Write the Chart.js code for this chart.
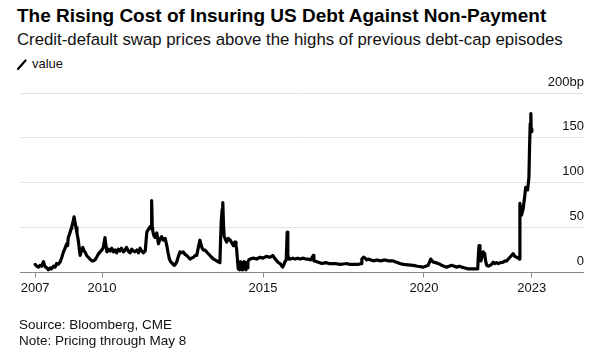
<!DOCTYPE html>
<html>
<head>
<meta charset="utf-8">
<script src="https://cdn.jsdelivr.net/npm/chart.js@4.4.1/dist/chart.umd.min.js"></script>
<style>
  html,body{margin:0;padding:0;background:#fff;}
  body{width:611px;height:355px;position:relative;overflow:hidden;font-family:"Liberation Sans",Arial,Helvetica,sans-serif;color:#000;}
  .t{position:absolute;white-space:nowrap;line-height:normal;}
  #title{left:17px;top:5px;font-size:19px;font-weight:bold;}
  #sub{left:17px;top:30px;font-size:16.8px;color:#111;}
  #leg{left:32px;top:56px;font-size:13px;color:#111;}
  #icon{position:absolute;left:16px;top:58px;}
  #src{left:19px;top:317px;font-size:13.5px;color:#111;}
  #note{left:19px;top:333px;font-size:13.5px;color:#111;}
  #wrap{position:absolute;left:0;top:0;width:611px;height:355px;}
</style>
</head>
<body>
<div class="t" id="title">The Rising Cost of Insuring US Debt Against Non-Payment</div>
<div class="t" id="sub">Credit-default swap prices above the highs of previous debt-cap episodes</div>
<svg id="icon" width="12" height="13"><line x1="2" y1="11" x2="9.5" y2="2.5" stroke="#000" stroke-width="2.2" stroke-linecap="round"/></svg>
<div class="t" id="leg">value</div>
<div id="wrap"><canvas id="c" width="611" height="355"></canvas></div>
<div class="t" id="src">Source: Bloomberg, CME</div>
<div class="t" id="note">Note: Pricing through May 8</div>
<script>
// Dates as decimal years, values in basis points
const dates = [
 2007.92,2007.97,2008.02,2008.07,2008.12,2008.18,2008.21,2008.24,2008.29,2008.33,2008.38,2008.43,2008.49,2008.54,2008.59,2008.64,
 2008.70,2008.75,2008.80,2008.85,2008.90,2008.93,2008.95,2008.98,2009.01,2009.04,2009.06,2009.10,2009.13,2009.16,2009.19,2009.22,
 2009.26,2009.29,2009.32,2009.36,2009.40,2009.44,2009.47,2009.52,2009.57,2009.62,2009.68,2009.73,2009.78,2009.83,2009.89,2009.94,
 2009.99,2010.04,2010.09,2010.12,2010.15,2010.20,2010.25,2010.30,2010.35,2010.40,2010.45,2010.50,2010.55,2010.60,2010.66,2010.71,
 2010.76,2010.81,2010.87,2010.92,2010.97,2011.02,2011.08,2011.13,2011.18,2011.23,2011.28,2011.34,2011.39,2011.44,2011.49,2011.53,
 2011.54,2011.56,2011.57,2011.61,2011.65,2011.70,2011.75,2011.80,2011.85,2011.90,2011.96,2012.01,2012.05,2012.09,2012.13,2012.16,
 2012.21,2012.25,2012.29,2012.32,2012.37,2012.42,2012.47,2012.52,2012.58,2012.63,2012.68,2012.73,2012.78,2012.84,2012.89,2012.94,
 2012.99,2013.04,2013.08,2013.11,2013.15,2013.20,2013.27,2013.35,2013.40,2013.46,2013.51,2013.56,2013.61,2013.66,2013.68,2013.70,
 2013.73,2013.75,2013.77,2013.79,2013.83,2013.87,2013.92,2013.98,2014.03,2014.08,2014.13,2014.16,2014.18,2014.21,2014.23,2014.25,
 2014.27,2014.29,2014.31,2014.33,2014.35,2014.37,2014.39,2014.41,2014.43,2014.45,2014.47,2014.49,2014.51,2014.53,2014.56,2014.60,
 2014.70,2014.80,2014.91,2015.00,2015.10,2015.22,2015.30,2015.38,2015.43,2015.48,2015.53,2015.57,2015.61,2015.65,2015.68,2015.72,
 2015.75,2015.77,2015.80,2015.84,2015.92,2016.00,2016.08,2016.15,2016.25,2016.33,2016.40,2016.48,2016.56,2016.58,2016.61,2016.67,
 2016.72,2016.83,2016.95,2017.05,2017.15,2017.24,2017.39,2017.50,2017.60,2017.70,2017.85,2017.95,2018.05,2018.07,2018.12,2018.17,
 2018.22,2018.27,2018.35,2018.43,2018.54,2018.65,2018.79,2018.90,2019.04,2019.10,2019.15,2019.25,2019.36,2019.50,2019.67,2019.80,
 2019.98,2020.05,2020.13,2020.21,2020.25,2020.29,2020.36,2020.44,2020.50,2020.55,2020.62,2020.70,2020.78,2020.86,2020.94,2021.02,
 2021.10,2021.17,2021.27,2021.37,2021.47,2021.58,2021.67,2021.69,2021.71,2021.74,2021.77,2021.80,2021.84,2021.87,2021.89,2021.92,
 2021.95,2022.00,2022.05,2022.10,2022.15,2022.20,2022.25,2022.31,2022.38,2022.46,2022.52,2022.57,2022.62,2022.67,2022.72,2022.77,
 2022.82,2022.88,2022.93,2022.96,2022.98,2023.03,2023.08,2023.13,2023.16,2023.22,2023.26,2023.28,2023.30,2023.32,2023.33,2023.35
];
const values = [
 9,7,6,8,7,12,8,6,5,3,5,4,7,6,10,9,
 12,17,23,27,32,30,39,42,45,49,51,57,62,56,50,44,
 36,27,19,25,28,24,23,19,17,15,13,13,14,17,21,23,
 25,28,39,30,23,26,24,27,23,25,22,26,24,27,23,25,
 28,24,22,26,24,23,25,22,27,24,22,24,45,48,51,49,
 80,50,47,41,39,44,32,37,40,36,38,30,22,15,12,11,
 9,8,10,12,18,23,22,23,20,19,17,15,16,17,19,19,
 28,36,30,27,25,25,22,19,17,15,14,13,12,11,35,56,
 70,78,55,41,37,34,38,36,33,30,34,30,26,12,4,11,
 3,12,4,10,3,11,5,12,4,10,3,11,5,12,14,15,
 16,15,17,16,18,17,19,15,13,11,10,8,6,9,12,14,
 45,20,15,15,16,15,16,15,16,15,15,14,19,13,13,12,
 11.5,10,11,10,10,10,9,9.5,10,9,9,9,10,15,17,16,
 14,15,14,13,14,13,14,13,13,12,11.5,10,9,8.5,8,7,
 6,7,8,15,13,11.5,11,10,9,8,7,6,7,8,7,6,
 7,6,5,4,4,4,4,20,30,18,13,18,23,21,19,12,
 8,7,8,9,11.5,10,11,10,11,11.5,13,13,15,17,19,21,
 18,17,16,15,77,64,71,85,95,92,106,140,166,177,160,157
];
// Axis ticks: first data point, round years, last data point
const xTickYears  = [2007.92, 2010, 2015, 2020, 2023.35];
const xTickLabels = ['2007', '2010', '2015', '2020', '2023'];
const yTickValues = [0, 50, 100, 150, 200];
const yTickLabels = ['0', '50', '100', '150', '200bp'];

const points = dates.map((d, i) => ({ x: d, y: values[i] }));
const FONT = '"Liberation Sans", Arial, sans-serif';

new Chart(document.getElementById('c'), {
  type: 'line',
  data: {
    datasets: [{
      label: 'value',
      data: points,
      borderColor: '#000',
      borderWidth: 3.2,
      pointRadius: 0,
      tension: 0,
      borderJoinStyle: 'round',
      borderCapStyle: 'round',
      fill: false
    }]
  },
  options: {
    responsive: false,
    animation: false,
    events: [],
    layout: { padding: { left: 20, right: 28, top: 93, bottom: 58.5 } },
    plugins: { legend: { display: false }, tooltip: { enabled: false }, title: { display: false } },
    scales: {
      x: {
        type: 'linear',
        min: 2007.45,
        max: 2024.94,
        afterBuildTicks: (s) => { s.ticks = xTickYears.map(v => ({ value: v })); },
        afterFit: (s) => { s.height = 24; },
        border: { display: true, color: '#8a8a8a', width: 1 },
        grid: { drawOnChartArea: false, drawTicks: true, tickLength: 5, tickColor: '#8a8a8a' },
        ticks: {
          autoSkip: false,
          maxRotation: 0,
          padding: 3,
          color: '#111',
          font: { family: FONT, size: 13 },
          callback: (v, i) => xTickLabels[i]
        }
      },
      y: {
        position: 'right',
        min: 0,
        max: 200,
        afterBuildTicks: (s) => { s.ticks = yTickValues.map(v => ({ value: v })); },
        afterFit: (s) => { s.width = 0; },
        border: { display: false },
        grid: {
          drawTicks: false,
          color: (ctx) => (ctx.tick && ctx.tick.value === 0) ? 'rgba(0,0,0,0)' : '#e2e2e2',
          lineWidth: 1
        },
        ticks: {
          mirror: true,
          padding: 1,
          labelOffset: -11,
          color: '#111',
          font: { family: FONT, size: 13 },
          callback: (v, i) => yTickLabels[i]
        }
      }
    }
  }
});
</script>
</body>
</html>
